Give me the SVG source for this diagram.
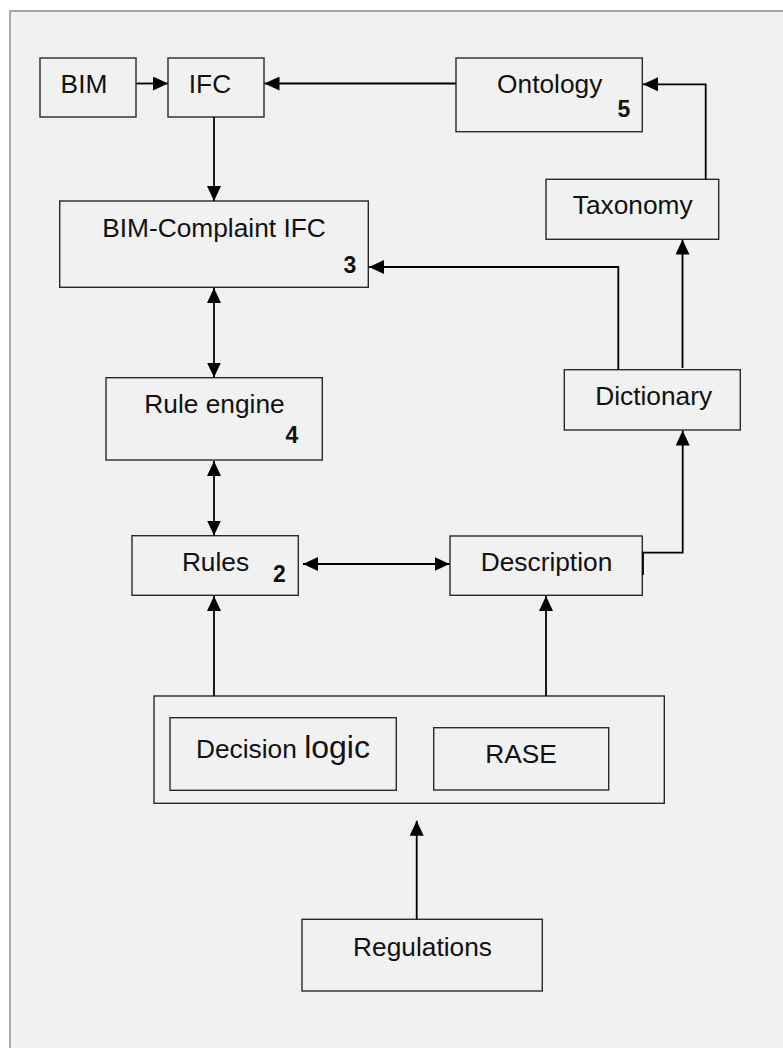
<svg xmlns="http://www.w3.org/2000/svg" width="783" height="1048" viewBox="0 0 783 1048">
  <style>
    .box { fill: none; stroke: #2a2a2a; stroke-width: 1.4; }
    .lbl { font-family: "Liberation Sans", Arial, sans-serif; font-size: 26.3px; fill: #111; text-anchor: middle; }
    .num { font-family: "Liberation Sans", Arial, sans-serif; font-size: 23px; font-weight: bold; fill: #111; text-anchor: middle; }
    .wire { fill: none; stroke: #000; stroke-width: 1.8; }
  </style>
  <defs>
    <marker id="head" markerUnits="userSpaceOnUse" markerWidth="15" markerHeight="14" refX="15" refY="7" orient="auto-start-reverse">
      <path d="M0,0 L15,7 L0,14 z" fill="#000"/>
    </marker>
  </defs>

  <!-- canvas -->
  <rect x="0" y="0" width="783" height="1048" fill="#fff"/>
  <rect x="10" y="11" width="790" height="1050" fill="#f1f1f1" stroke="#a8a8a8" stroke-width="2"/>

  <!-- nodes -->
  <g id="bim">
    <rect class="box" x="40" y="58" width="96" height="59"/>
    <text class="lbl" x="84" y="92.7">BIM</text>
  </g>
  <g id="ifc">
    <rect class="box" x="168" y="58" width="96" height="59"/>
    <text class="lbl" x="210" y="92.7">IFC</text>
  </g>
  <g id="ontology">
    <rect class="box" x="456" y="58" width="186.3" height="73.7"/>
    <text class="lbl" x="549.7" y="92.7">Ontology</text>
    <text class="num" x="624" y="117.3">5</text>
  </g>
  <g id="taxonomy">
    <rect class="box" x="546" y="179.3" width="172.7" height="60"/>
    <text class="lbl" x="632.7" y="214.3">Taxonomy</text>
  </g>
  <g id="bim-compliant-ifc">
    <rect class="box" x="59.7" y="201" width="308.6" height="86.3"/>
    <text class="lbl" x="214" y="237.3">BIM-Complaint IFC</text>
    <text class="num" x="350" y="273.3">3</text>
  </g>
  <g id="dictionary">
    <rect class="box" x="564.3" y="369.7" width="176" height="60.3"/>
    <text class="lbl" x="653.7" y="405">Dictionary</text>
  </g>
  <g id="rule-engine">
    <rect class="box" x="106" y="377.7" width="216.3" height="82.3"/>
    <text class="lbl" x="214.5" y="412.7">Rule engine</text>
    <text class="num" x="292" y="443.3">4</text>
  </g>
  <g id="rules">
    <rect class="box" x="132" y="535.7" width="166.3" height="59.6"/>
    <text class="lbl" x="215.5" y="570.7">Rules</text>
    <text class="num" x="279.3" y="581.7">2</text>
  </g>
  <g id="description">
    <rect class="box" x="450" y="536" width="192.3" height="59.3"/>
    <line x1="643" y1="552.7" x2="643" y2="575" stroke="#000" stroke-width="1.8"/>
    <text class="lbl" x="546.5" y="571">Description</text>
  </g>
  <g id="method">
    <rect class="box" x="154" y="696" width="510.3" height="107.3"/>
    <g id="decision-logic">
      <rect class="box" x="170" y="717.7" width="226.3" height="72.6"/>
      <text class="lbl" x="196" y="758.3" style="text-anchor:start">Decision <tspan style="font-size:32px">logic</tspan></text>
    </g>
    <g id="rase">
      <rect class="box" x="433.7" y="727.7" width="175" height="62.3"/>
      <text class="lbl" x="521" y="762.7">RASE</text>
    </g>
  </g>
  <g id="regulations">
    <rect class="box" x="302" y="919.3" width="240.3" height="71.7"/>
    <text class="lbl" x="422.5" y="955.7">Regulations</text>
  </g>

  <!-- connectors -->
  <g id="connectors">
    <path class="wire" d="M136,83.5 H168" marker-end="url(#head)"/>
    <path class="wire" d="M456,83.5 H264.5" marker-end="url(#head)"/>
    <path class="wire" d="M214,117 V201" marker-end="url(#head)"/>
    <path class="wire" d="M705.7,179.3 V84.3 H643" marker-end="url(#head)"/>
    <path class="wire" d="M682.5,368 V239.5" marker-end="url(#head)"/>
    <path class="wire" d="M618.3,369.7 V267 H369" marker-end="url(#head)"/>
    <path class="wire" d="M214,288 V377.5" marker-start="url(#head)" marker-end="url(#head)"/>
    <path class="wire" d="M214,461 V535.5" marker-start="url(#head)" marker-end="url(#head)"/>
    <path class="wire" d="M303,564 H449.5" marker-start="url(#head)" marker-end="url(#head)"/>
    <path class="wire" d="M214,696 V596" marker-end="url(#head)"/>
    <path class="wire" d="M546,696 V596" marker-end="url(#head)"/>
    <path class="wire" d="M642.5,552.7 H682.7 V430.5" marker-end="url(#head)"/>
    <path class="wire" d="M416.7,919.3 V820.7" marker-end="url(#head)"/>
  </g>
</svg>
